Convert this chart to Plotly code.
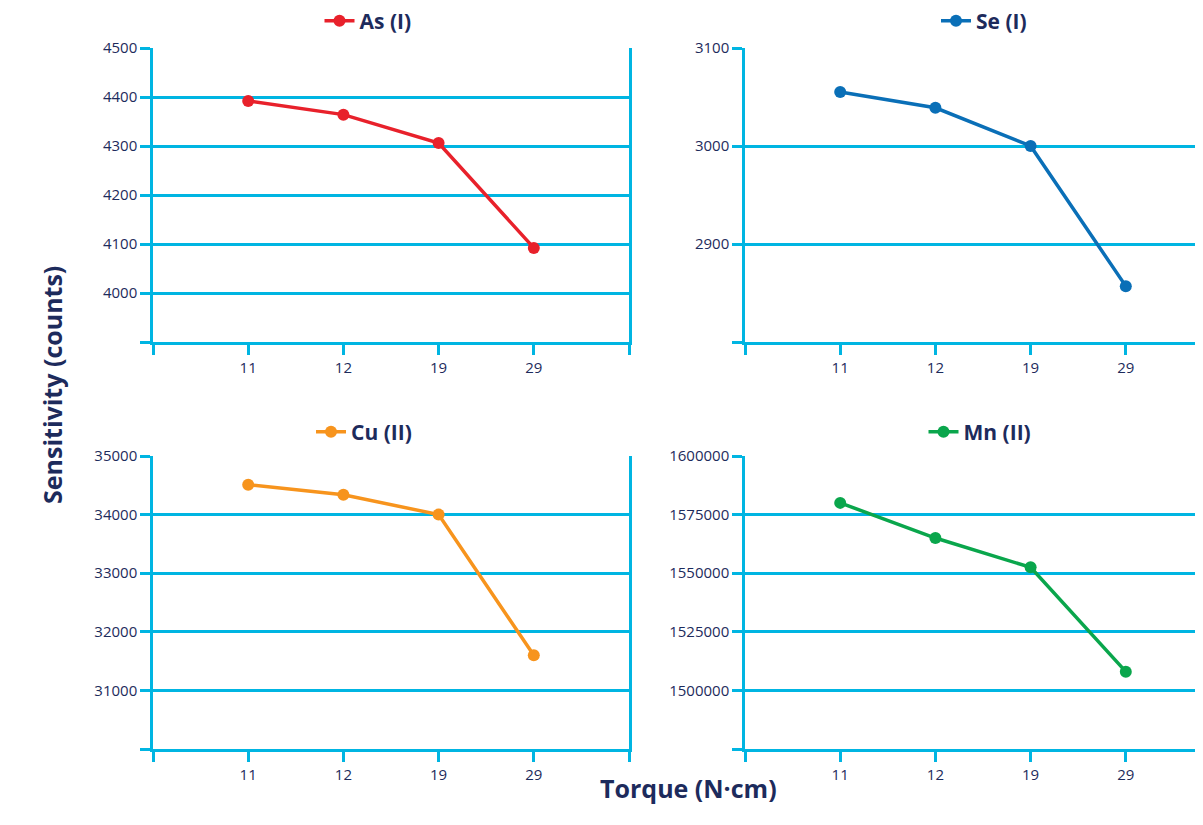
import plotly.graph_objects as go

torque = ["11", "12", "19", "29"]
as_vals = [4392, 4364, 4306, 4092]
se_vals = [3055, 3039, 3000, 2857]
cu_vals = [34510, 34340, 34000, 31600]
mn_vals = [1580000, 1565000, 1552500, 1508000]

names = ["As (I)", "Se (I)", "Cu (II)", "Mn (II)"]
colors = ["#e8212b", "#0a6fb7", "#f7941d", "#0aa64c"]
series = [as_vals, se_vals, cu_vals, mn_vals]
y_ticks = [
    [3900, 4000, 4100, 4200, 4300, 4400, 4500],
    [2800, 2900, 3000, 3100],
    [30000, 31000, 32000, 33000, 34000, 35000],
    [1475000, 1500000, 1525000, 1550000, 1575000, 1600000],
]

NAVY = "#1d2b5c"
CYAN = "#00b5e2"
FONT = "Open Sans"

OFF = 8  # default page body margin
W, H = 1203 - OFF, 825 - OFF
ML, MR, MT, MB = 153 - OFF, 0, 48 - OFF, 76
PW, PH = W - ML - MR, H - MT - MB

def px_x(x):
    return (x - OFF - ML) / PW

def px_y(y):
    return (H - MB - (y - OFF)) / PH

# pixel boxes in reference page coords: (left, right, top, bottom)
boxes = [(153, 629, 48, 342), (745, 1203, 48, 342), (153, 629, 456, 749), (745, 1203, 456, 749)]
legend_centers = [(368, 21), (984, 21), (364, 432), (980, 432)]

fig = go.Figure()
xpos = list(range(len(torque)))
layout = {}
for i in range(4):
    suf = "" if i == 0 else str(i + 1)
    leg = "legend" if i == 0 else f"legend{i + 1}"
    fig.add_trace(go.Scatter(
        x=xpos, y=series[i], mode="lines+markers", name=names[i],
        line=dict(color=colors[i], width=3.5), marker=dict(color=colors[i], size=12),
        xaxis="x" + suf, yaxis="y" + suf, legend=leg, showlegend=True,
    ))
    l, r, t, b = boxes[i]
    right_clip = (i % 2 == 1)
    xmax = 4 if not right_clip else -1 + (r - l) / 95.2
    tv = [-1, 0, 1, 2, 3, 4]
    tt = [""] + torque + [""]
    layout["xaxis" + suf] = dict(
        domain=[px_x(l), min(1, px_x(r))], anchor="y" + suf, range=[-1, xmax],
        tickvals=tv, ticktext=tt, ticks="outside", ticklen=10, tickwidth=2.5,
        tickcolor=CYAN, showline=True, linecolor=CYAN, linewidth=2.5,
        showgrid=False, zeroline=False,
        tickfont=dict(family=FONT, size=15, color=NAVY),
    )
    yt = y_ticks[i]
    layout["yaxis" + suf] = dict(
        domain=[px_y(b), min(1, px_y(t))], anchor="x" + suf, range=[yt[0], yt[-1]],
        tickvals=yt, ticktext=[""] + [str(v) for v in yt[1:]],
        ticks="outside", ticklen=10, tickwidth=2.5, tickcolor=CYAN,
        showline=True, linecolor=CYAN, linewidth=2.5,
        mirror=(not right_clip),
        showgrid=True, gridcolor=CYAN, gridwidth=2.5, zeroline=False,
        tickfont=dict(family=FONT, size=15, color=NAVY),
    )
    cx, cy = legend_centers[i]
    layout[leg] = dict(
        x=px_x(cx), y=px_y(cy), xanchor="center", yanchor="middle",
        orientation="h", bgcolor="rgba(0,0,0,0)",
        font=dict(family=FONT, size=21, color=NAVY, weight=700),
    )

fig.update_layout(
    width=W, height=H,
    margin=dict(l=ML, r=MR, t=MT, b=MB, autoexpand=False),
    paper_bgcolor="white", plot_bgcolor="white",
    font=dict(family=FONT, color=NAVY),
    **layout,
)

fig.add_annotation(
    text="Sensitivity (counts)", xref="paper", yref="paper",
    x=px_x(33), y=px_y(385), textangle=-90, showarrow=False,
    font=dict(family=FONT, size=25, color=NAVY, weight=700),
)
fig.add_annotation(
    text="Torque (N·cm)", xref="paper", yref="paper",
    x=px_x(688), y=px_y(807), showarrow=False,
    font=dict(family=FONT, size=25, color=NAVY, weight=700),
)

fig.write_html("out.html")
